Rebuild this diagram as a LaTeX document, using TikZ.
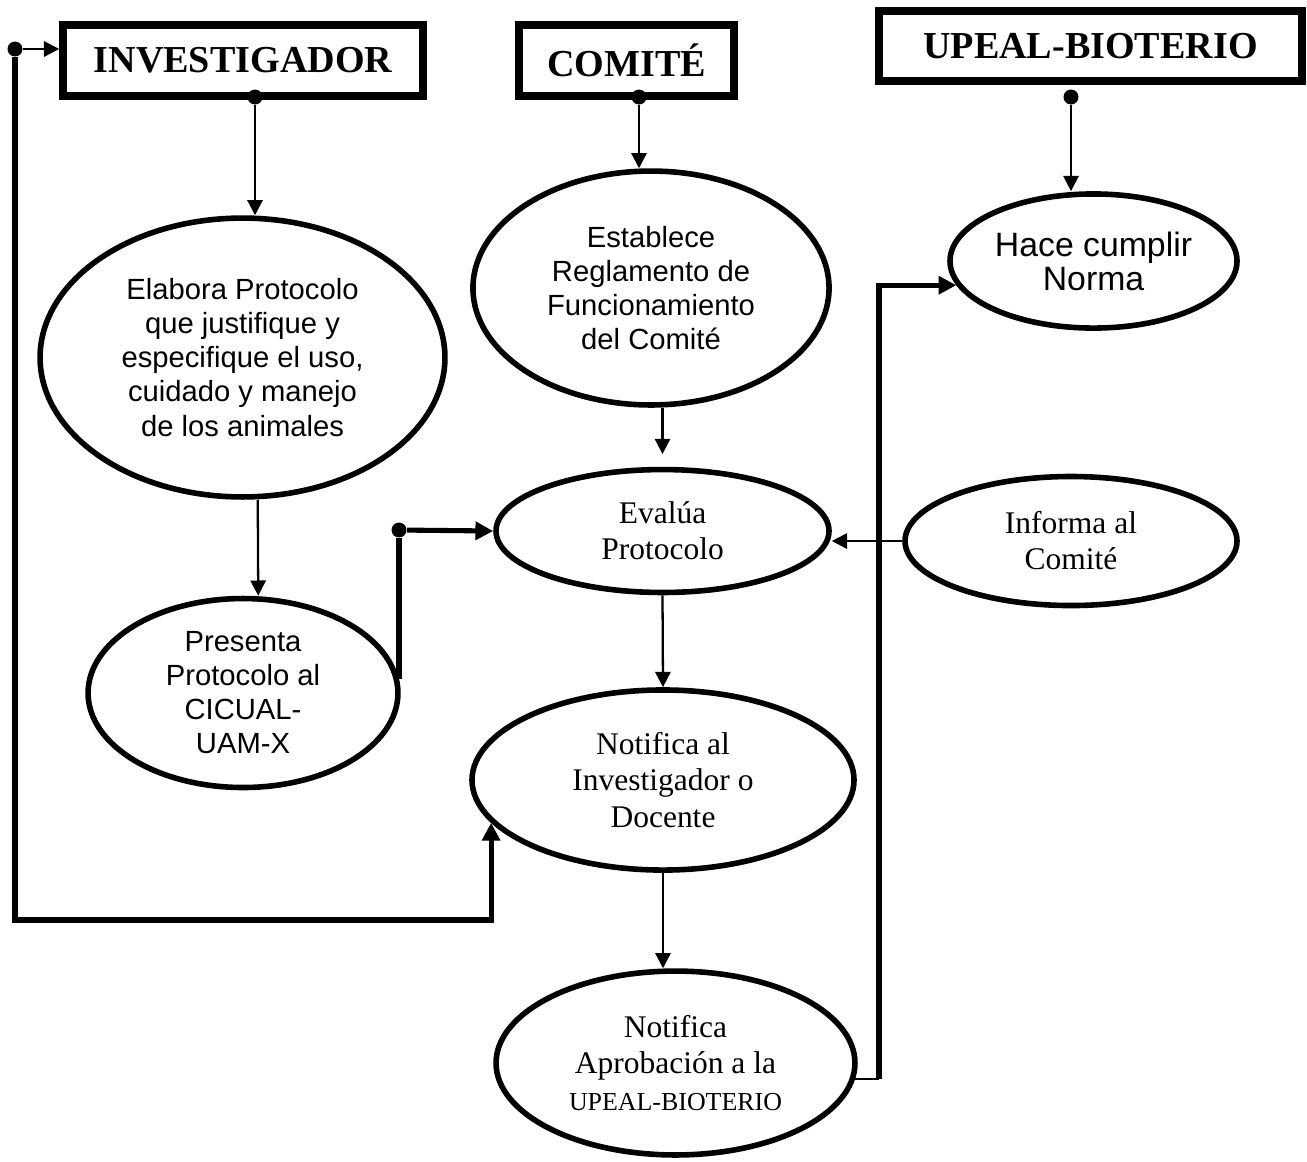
\documentclass[tikz,border=0pt]{standalone}
\usepackage{fontspec}
\setmainfont{Liberation Serif}
\setsansfont{Liberation Sans}
\usetikzlibrary{shapes.geometric,arrows.meta}

\tikzset{
  caja/.style={draw, line width=3pt, inner sep=0pt, font=\bfseries\fontsize{15}{18}\selectfont},
  elipse/.style={draw, ellipse, line width=2.2pt, inner sep=0pt, align=center},
  sans/.style={font=\sffamily\fontsize{11.5}{13.4}\selectfont},
  serif/.style={font=\fontsize{12.4}{14.2}\selectfont},
  punto/.style={circle, fill, inner sep=0pt, minimum size=5.9pt},
  fina/.style={line width=0.9pt, -{Triangle[length=6pt,width=6pt]}},
  gruesa/.style={line width=2pt},
  flecha gruesa/.style={gruesa, -{Triangle[length=7pt,width=7pt]}},
}

\begin{document}
\begin{tikzpicture}[x=0.3937pt, y=-0.3937pt]
        \useasboundingbox (0, 0) rectangle (1307, 1161);

        % encabezados
        \path (243, 60.5)   node[caja, minimum width=141.7pt, minimum height=28pt]   (inv) {INVESTIGADOR};
        \path (626.5, 60.5) node[caja, minimum width=84.6pt, minimum height=28pt]    (com) {COMITÉ};
        \path (1090.5, 46)  node[caja, minimum width=166.5pt, minimum height=27.6pt] (upe) {UPEAL-BIOTERIO};

        % actividades
        \path (242.5, 357.5) node[elipse, sans, minimum width=159.4pt, minimum height=109.8pt] (elabora)
            {Elabora Protocolo\\que justifique y\\especifique el uso,\\cuidado y manejo\\de los animales};
        \path (651, 288)     node[elipse, sans, minimum width=140.2pt, minimum height=92.1pt] (establece)
            {Establece\\Reglamento de\\Funcionamiento\\del Comité};
        \path (1093.5, 261)  node[elipse, sans, font=\sffamily\fontsize{13.3}{13.4}\selectfont,
            minimum width=113pt, minimum height=52.8pt] (hace)
            {Hace cumplir\\Norma};
        \path (662.5, 531)   node[elipse, serif, minimum width=131.1pt, minimum height=48.4pt] (evalua)
            {Evalúa\\Protocolo};
        \path (1071, 541)    node[elipse, serif, minimum width=130.7pt, minimum height=50.8pt] (informa)
            {Informa al\\Comité};
        \path (243, 693)     node[elipse, sans, minimum width=122pt, minimum height=74.4pt] (presenta)
            {Presenta\\Protocolo al\\CICUAL-\\UAM-X};
        \path (663, 780)     node[elipse, serif, minimum width=150.4pt, minimum height=70.9pt] (notifica)
            {Notifica al\\Investigador o\\Docente};
        \path (675.5, 1063)  node[elipse, serif, minimum width=141.3pt, minimum height=72.4pt] (aprobacion)
            {Notifica\\Aprobación a la\\{\fontsize{10.2}{12}\selectfont UPEAL-BIOTERIO}};

        % puntos
        \path (15, 49)   node[punto] (p0) {};
        \path (255, 97)  node[punto] (p1) {};
        \path (639, 97)  node[punto] (p2) {};
        \path (1071, 97) node[punto] (p3) {};
        \path (399, 530) node[punto] (p4) {};
        \coordinate (lazo) at (15, 920);
        \coordinate (esq) at (879, 1079);

        \draw[fina] (p1) -- (p1 |- elabora.north);
        \draw[fina] (p2) -- (p2 |- establece.north);
        \draw[fina] (p3) -- (p3 |- hace.north);
        \draw[fina] ([xshift=6pt]elabora.south) -- ([xshift=6pt]presenta.north);
        \draw[fina, shorten >=5pt] (evalua.north |- establece.south) -- (evalua.north);
        \draw[fina] (evalua.south) -- (notifica.north);
        \draw[fina] (notifica.south) -- (notifica.south |- aprobacion.north);
        \draw[fina] (informa.west) -- (informa.west -| evalua.east);
        \draw[fina] (p0) -- (p0 -| inv.west);

        \draw[gruesa] (p4 |- presenta.5) -- (p4);
        \draw[flecha gruesa] (p4) -- (evalua.west);
        \draw[flecha gruesa] (p0) -- (lazo) -| (notifica.194);
        \draw[line width=0.9pt] (aprobacion.355) -- (aprobacion.355 -| esq);
        \draw[flecha gruesa] (esq) |- (hace.190);
    \end{tikzpicture}
\end{document}
